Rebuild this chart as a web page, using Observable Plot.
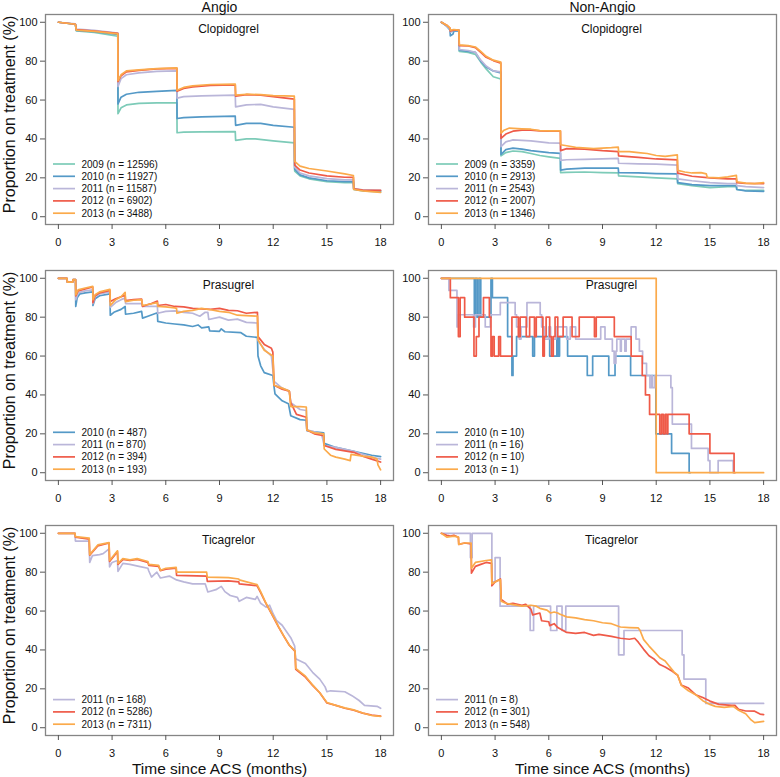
<!DOCTYPE html>
<html><head><meta charset="utf-8">
<script src="https://cdn.jsdelivr.net/npm/d3@7"></script>
<script src="https://cdn.jsdelivr.net/npm/@observablehq/plot@0.6"></script>
<style>
html,body{margin:0;padding:0;background:#fff;}
#chart{position:relative;width:780px;height:777px;overflow:hidden;font-family:"Liberation Sans",Arial,Helvetica,sans-serif;}
#chart svg{position:absolute;}
</style></head><body><div id="chart"></div>
<script>
// ---------- labels / ticks ----------
const columnTitles = ["Angio", "Non-Angio"];
const drugs = ["Clopidogrel", "Prasugrel", "Ticagrelor"];
const xTicks = [0, 3, 6, 9, 12, 15, 18];
const yTicks = [0, 20, 40, 60, 80, 100];
const yLabel = "Proportion on treatment (%)";
const xLabel = "Time since ACS (months)";
const yearColors = {2009: "#7dcbb8", 2010: "#5499c7", 2011: "#bab6d9", 2012: "#ef5a48", 2013: "#fbaa4b"};

// ---------- sample sizes ----------
const nAngioClop = {2009: 12596, 2010: 11927, 2011: 11587, 2012: 6902, 2013: 3488};
const nNonAngioClop = {2009: 3359, 2010: 2913, 2011: 2543, 2012: 2007, 2013: 1346};
const nAngioPras = {2010: 487, 2011: 870, 2012: 394, 2013: 193};
const nNonAngioPras = {2010: 10, 2011: 16, 2012: 10, 2013: 1};
const nAngioTica = {2011: 168, 2012: 5286, 2013: 7311};
const nNonAngioTica = {2011: 8, 2012: 301, 2013: 548};

// ---------- series: [month, % on treatment, ...] ----------
// Angio / Clopidogrel
const ac2009 = [0,100, 0.95,99, 1.0,95.6, 2,94.8, 3.32,92.8, 3.33,53, 3.5,56, 3.8,57.5, 4.5,58.3, 5.5,58.5, 6.62,58.6, 6.63,43.2, 7,43.5, 8,43.6, 9.88,43.8, 9.9,39.3, 10.5,40, 11,40, 12,39, 13.18,38, 13.2,23.5, 13.5,21, 14,19.5, 15,18, 16,17.5, 16.48,17.5, 16.5,14, 17,13.3, 18,12.8];
const ac2010 = [0,100, 0.95,99, 1.0,95.8, 2,95.2, 3.32,93.8, 3.33,58, 3.5,61.5, 3.8,63, 4.5,64, 5.5,64.5, 6.62,65, 6.63,50.5, 7,51, 8,51.3, 9.88,51.7, 9.9,47, 10.5,48, 11.3,48, 12,47, 13.18,46, 13.2,24.5, 13.5,21.5, 14,20, 15,18.5, 16,18, 16.48,18, 16.5,14.2, 17,13.6, 18,13.2];
const ac2011 = [0,100, 0.95,99.2, 1.0,96.5, 2,95.8, 3.32,94.5, 3.33,67, 3.5,71, 3.8,73, 4.5,74, 5.5,74.7, 6.62,75, 6.63,61, 7,61.8, 8,62.2, 9.88,62.5, 9.9,56.5, 10.5,57.5, 11.3,57.8, 12,56.5, 13.18,55.2, 13.2,25.5, 13.5,22.5, 14,21, 15,19.6, 16,19, 16.48,19, 16.5,14.4, 17,13.8, 18,13.5];
const ac2012 = [0,100, 0.95,99, 1.0,96.2, 2,95.5, 3.32,94.3, 3.33,69.5, 3.5,72.5, 3.8,74.5, 4.5,75.3, 5.5,76, 6.62,76.3, 6.63,64.5, 7,66, 7.5,66.8, 8.5,67.5, 9.88,67.8, 9.9,62, 10.5,62.8, 11.3,62.5, 12,61.8, 13.18,60.5, 13.2,26.5, 13.5,24, 14,22.5, 15,21, 16,20.3, 16.48,20.2, 16.5,14.3, 17,13.7, 18,13.5];
const ac2013 = [0,100, 0.95,99, 1.0,96, 2,95.3, 3.32,94, 3.33,70, 3.5,73, 3.8,75, 4.5,75.5, 5.5,76.2, 6.62,76.6, 6.63,65, 7,66.5, 7.5,67.3, 8.5,68, 9.88,68.2, 9.9,62.5, 10.5,63, 11.3,62.8, 12,62.3, 13.18,62, 13.2,28.5, 13.5,26, 14,24.8, 15,23.5, 16,22, 16.48,21.2, 16.5,14, 17,13.3, 18,12.5];
// Non-Angio / Clopidogrel
const nc2009 = [0,100, 0.3,98, 0.48,96.5, 0.5,95, 0.65,95.5, 0.7,96, 0.98,95.8, 1.0,85, 1.5,84.5, 1.9,83.5, 2.2,79.5, 2.5,76, 2.9,72, 3.32,70.8, 3.33,31.3, 3.6,33, 4,33.8, 4.5,33.5, 5,32.5, 5.5,31.5, 6,30.8, 6.65,30, 6.66,22.7, 7,22.8, 8,23, 9,22.7, 9.88,22.5, 9.9,21, 11,20.5, 12,20, 13.18,19.5, 13.2,17, 14,16, 15,15, 16,15.5, 16.48,15.5, 16.5,14, 17,13.5, 18,13.5];
const nc2010 = [0,100, 0.3,98, 0.48,96, 0.5,93, 0.65,94, 0.7,95.5, 0.98,95.5, 1.0,85.6, 1.5,85, 1.9,84.5, 2.2,80, 2.5,77, 2.9,75, 3.32,74, 3.33,32, 3.6,34.5, 4,35.3, 4.5,34.8, 5,34, 5.5,33.5, 6,33, 6.65,32.6, 6.66,24, 7,24.5, 8,25, 9,25, 9.88,25, 9.9,22.7, 11,22.5, 12,22.2, 13.18,22, 13.2,17.5, 14,16.5, 15,16, 16,16, 16.48,16, 16.5,14, 17,13.3, 18,13];
const nc2011 = [0,100, 0.3,98, 0.48,96.5, 0.5,95, 0.7,96, 0.98,95.8, 1.0,86, 1.5,85.5, 1.9,84.5, 2.2,80.5, 2.5,77.5, 2.9,75, 3.32,74.5, 3.33,36, 3.6,38.5, 4,39.5, 4.5,39.3, 5,39, 5.5,38.5, 6,38, 6.65,37.8, 6.66,29, 7,29.3, 8,29.5, 9,29.7, 9.88,30, 9.9,27.5, 11,27.2, 12,27, 13.18,26.5, 13.2,19.5, 14,18.5, 15,17.5, 16,17, 16.48,17, 16.5,16, 17,15.5, 18,15];
const nc2012 = [0,100, 0.3,98.5, 0.48,97, 0.5,95.5, 0.7,96, 0.98,96, 1.0,88, 1.5,87.8, 1.9,87, 2.2,84.5, 2.5,82, 2.9,80.3, 3.32,79, 3.33,40.3, 3.6,42.5, 4,44, 4.5,44.5, 5,44.5, 5.5,44.2, 6,44, 6.65,44, 6.66,34, 7,35, 8,34.8, 9,34, 9.88,33.5, 9.9,31.3, 11,30.5, 12,29.7, 13.18,29.2, 13.2,22.4, 14,20.8, 15,20, 16,19.5, 16.48,19.5, 16.5,17.5, 17,17.2, 18,17];
const nc2013 = [0,100, 0.3,98.5, 0.48,97, 0.5,96, 0.7,96.3, 0.98,96, 1.0,88.4, 1.5,88, 1.9,87.3, 2.2,85, 2.5,82.5, 2.9,80.5, 3.32,79.5, 3.33,43, 3.5,44.5, 3.8,45.6, 4.5,45.2, 5,45, 5.5,44.3, 6,44.2, 6.65,44.2, 6.66,37, 7,36.5, 7.5,35.7, 8.5,35, 9.5,35.5, 9.88,35.8, 9.9,33.5, 10.5,33.5, 11,33, 11.5,32.5, 12,31.5, 12.5,31, 13.18,31.8, 13.2,23.8, 13.6,23, 14,22.5, 14.5,22.7, 14.8,22, 14.85,20.3, 15.5,20, 16,20.5, 16.48,21.3, 16.5,18, 17,17.3, 17.5,17, 18,17.5];
// Angio / Prasugrel
const ap2010 = [0,100, 0.48,100, 0.5,98, 0.8,98, 0.82,99.3, 0.96,99.3, 0.97,85.5, 1.05,90, 1.2,92, 1.5,92.5, 1.92,93, 1.93,86, 2.05,89.5, 2.3,91, 2.88,92, 2.9,81, 3.1,82.5, 3.5,84, 3.73,85.5, 3.75,81.5, 4.2,82, 4.65,83, 4.7,79.5, 5.0,80.5, 5.53,82.3, 5.55,77.8, 6,77, 6.5,76.5, 7,76, 7.5,75.2, 7.8,76, 8.0,74.5, 8.4,75, 8.45,73, 9,72.7, 9.1,74, 9.3,72.5, 10.2,72, 10.5,70.2, 11.12,69.6, 11.15,60, 11.3,55, 11.5,51.5, 11.98,50, 12.05,44, 12.1,40.5, 12.5,37, 12.85,35.5, 12.98,29.3, 13.5,27.3, 13.85,27, 13.88,21.6, 14.3,21, 14.82,20.5, 14.85,15.1, 15.5,13, 16,12, 16.5,11, 17,10, 17.5,9, 18,8.3];
const ap2011 = [0,100, 0.48,100, 0.5,98, 0.8,98, 0.82,99.3, 0.96,99.3, 0.97,89, 1.1,92.5, 1.5,93.5, 1.92,94, 1.93,87, 2.05,90.5, 2.3,92, 2.88,93, 2.9,85, 3.2,87.5, 3.5,89, 3.73,89.8, 3.75,87, 4.2,87, 4.65,87, 4.7,85.5, 5.0,85.5, 5.53,85.5, 5.55,82, 6,83, 6.5,83.2, 7,82.5, 7.5,82, 7.9,80.5, 8.2,82.5, 8.35,82.5, 8.4,78.8, 9,80, 9.5,78.5, 10,79, 10.5,77.3, 11.12,77, 11.15,68, 11.5,63.5, 11.9,60, 12.05,47, 12.5,43.5, 12.9,42, 12.98,36, 13.5,32.5, 13.85,32, 13.88,22, 14.7,20, 14.85,14, 15.5,13, 16.5,11, 17,9.5, 17.5,8, 18,7];
const ap2012 = [0,100, 0.48,100, 0.5,98, 0.8,98, 0.82,99.3, 0.96,99.3, 0.97,91, 1.1,93.5, 1.5,94.5, 1.92,95.5, 1.93,87.5, 2.05,91, 2.3,92.5, 2.88,93.8, 2.9,88, 3.2,89.5, 3.5,90.5, 3.73,91.2, 3.75,88.5, 4.2,89, 4.65,89.3, 4.7,85.5, 5.0,86.5, 5.2,87, 5.53,88.3, 5.55,86, 6,86.5, 6.5,85.5, 7,85.3, 7.5,84.5, 8.5,84, 9,84.5, 9.5,83.5, 10,83.3, 10.5,82, 11.12,82.5, 11.15,70, 11.5,66, 11.9,64, 11.98,62, 12.05,45, 12.5,43, 12.9,42, 12.98,36, 13.3,30, 13.85,28.5, 13.88,22, 14.3,20, 14.82,19, 14.85,14, 15.5,12, 16.5,10.5, 17,8.5, 17.5,7, 18,5.5];
const ap2013 = [0,100, 0.48,100, 0.5,98, 0.8,98, 0.82,99.3, 0.96,99.3, 0.97,91.5, 1.1,94, 1.5,95, 1.92,95.8, 1.93,89, 2.05,91.5, 2.3,93, 2.88,94.3, 2.9,86, 3.2,89, 3.5,90.5, 3.73,92.8, 3.75,88, 4.2,88.7, 4.65,89, 4.7,86, 5.0,86.5, 5.53,87.5, 5.55,85.5, 6,85.3, 6.5,84.8, 6.6,84.5, 6.62,82, 7,83, 7.5,83.5, 8,84.5, 8.5,83.8, 9,83, 9.5,82.5, 10,81, 10.5,80.8, 11.12,80.5, 11.15,68.3, 11.5,63, 11.98,60, 12.05,45, 12.5,43.5, 12.9,42, 12.98,34, 13.5,34, 13.85,33.8, 13.88,22, 14.3,20.5, 14.82,20, 14.85,12.2, 15.2,9, 15.5,8, 16,7, 16.3,6.2, 16.35,9.4, 17,8.5, 17.5,8, 17.8,7, 17.85,4, 18,1.5];
// Non-Angio / Prasugrel (step knots)
const np2010 = [0,100, 1.84,80, 1.9,100, 2.0,80, 2.1,100, 2.2,80, 2.77,100, 2.85,90, 3.7,70, 3.94,50, 4.0,60, 4.2,70, 5.1,60, 5.2,70, 6.05,60, 6.45,70, 6.52,60, 6.6,70, 7.05,60, 8.15,50, 8.45,60, 9.35,50, 9.7,60, 10.57,50, 11.98,20, 12.86,10, 13.84,0, 13.9,0];
const np2011 = [0,100, 0.42,93.75, 0.87,75, 0.95,81.25, 1.8,75, 1.9,81.25, 2.45,75, 2.73,81.25, 3.29,87.5, 4.12,81.25, 4.2,75, 4.35,68.75, 4.45,75, 4.78,87.5, 5.52,81.25, 5.6,75, 5.75,68.75, 6.0,75, 6.1,68.75, 6.4,75, 7.0,68.75, 7.2,75, 7.5,68.75, 8.9,75, 9.14,68.75, 9.55,62.5, 9.65,56.25, 9.75,62.5, 9.8,68.75, 10.0,62.5, 10.05,68.75, 10.25,62.5, 10.32,68.75, 10.6,75, 10.87,68.75, 11.06,62.5, 11.24,56.25, 11.46,50, 11.65,43.75, 11.75,50, 11.8,43.75, 11.93,50, 12.82,43.75, 12.9,25, 13.97,12.5, 14.9,6.25, 15.0,0, 15.46,6.25, 16.3,0, 16.35,0];
const np2012 = [0,100, 0.5,90, 0.95,70, 1.05,90, 1.3,80, 1.82,60, 1.95,70, 2.1,80, 2.35,90, 2.68,80, 2.77,60, 2.85,70, 2.95,60, 3.2,70, 3.3,60, 3.94,80, 4.3,70, 4.4,80, 4.74,70, 4.93,80, 5.2,70, 5.3,80, 5.67,60, 5.75,70, 5.85,80, 6.05,70, 6.15,60, 6.25,70, 6.35,80, 6.5,70, 6.8,80, 7.3,70, 7.7,80, 8.55,70, 8.65,80, 9.66,70, 10.6,60, 11.22,50, 11.4,40, 11.63,30, 12.2,20, 12.3,30, 12.4,20, 12.5,30, 12.6,20, 12.65,30, 13.84,20, 15.0,10, 16.35,0, 16.4,0];
const np2013 = [0,100, 12.0,0, 18,0];
// Angio / Ticagrelor
const at2011 = [0,100, 0.93,100, 0.95,96, 1.72,96, 1.75,85, 1.9,88.5, 2.3,89, 2.5,89.5, 2.83,92, 2.86,82.7, 3.0,85, 3.3,86, 3.33,80.4, 3.6,84.5, 4.0,84, 4.5,83, 5.0,82, 5.05,80.6, 5.2,77.5, 5.5,80, 5.7,77, 6.2,78, 6.6,76, 7,75, 7.5,74, 8.2,74, 8.35,69.8, 8.8,71, 9.1,72.7, 9.3,70, 9.6,68, 10,67, 10.1,65, 10.5,67, 11.0,66, 11.1,67.5, 11.3,64, 11.6,62, 11.8,63, 12,58.5, 12.2,55, 12.5,52.7, 12.7,50, 13.0,46, 13.2,42, 13.25,35.5, 13.8,33, 14.2,28.5, 14.6,25, 14.9,21, 15.0,18.5, 15.2,19, 16.0,18.5, 16.4,16.5, 16.8,14, 17.1,11.5, 17.8,11, 18,10];
const at2012 = [0,100, 0.93,100, 0.95,98, 1.72,97, 1.75,88.7, 2.2,93.5, 2.83,95, 2.86,85.5, 3.3,90.5, 3.33,84, 3.6,86.5, 4.0,86, 4.4,86.5, 5.0,85, 5.05,83.5, 5.6,83, 5.7,80.8, 6.0,81.5, 6.58,82, 6.6,78.4, 8.28,78, 8.32,75.3, 9.5,75.5, 10.08,75, 10.1,74, 11.1,73, 11.3,69.5, 11.6,63.8, 12,57, 12.3,51.8, 12.6,47, 12.9,42.4, 13.22,39.3, 13.26,30, 13.8,26, 14.2,21.8, 14.6,18, 15,12.7, 15.5,11.5, 16,10, 16.5,9, 17,7.5, 17.5,6.5, 18,6];
const at2013 = [0,100, 0.93,100, 0.95,98.3, 1.72,97.5, 1.75,89, 2.2,94, 2.83,95.2, 2.86,86, 3.3,91, 3.33,84.5, 3.6,87, 4.0,86.3, 4.4,87, 5.0,85.5, 5.05,84, 5.6,83.5, 5.7,81, 6.0,82, 6.58,82.5, 6.6,80, 8.28,80, 8.32,77.4, 9.5,77.2, 10.08,76.5, 10.1,76, 11.1,73.6, 11.3,70, 11.6,64, 12,57.3, 12.3,52, 12.6,47, 12.9,42.5, 13.22,39.5, 13.26,30.5, 13.8,26.5, 14.2,22, 14.6,18, 15,13, 15.5,11.5, 16,10.2, 16.5,9.2, 17,7.6, 17.5,6.3, 18,5.8];
// Non-Angio / Ticagrelor
const nt2011 = [0,100, 1.62,87.5, 1.72,100, 2.82,75, 3.0,87.5, 3.28,62.5, 4.96,50, 5.15,62.5, 6.1,50, 6.45,62.5, 6.74,50, 6.95,62.5, 9.9,37.5, 10.2,50, 13.45,37.5, 13.55,25, 14.77,12.5, 18,12.5];
const nt2012 = [0,100, 0.3,99, 0.5,98.5, 0.7,99, 0.95,98, 0.97,94.3, 1.3,95, 1.66,94.5, 1.68,79.5, 1.9,83, 2.2,84, 2.5,85, 2.8,84.5, 2.82,73, 3.0,75, 3.3,76.5, 3.34,66, 3.7,63.5, 4.0,64, 4.5,63, 4.7,63.5, 5.0,61, 5.1,58, 5.5,59, 5.6,55, 6.0,54.5, 6.05,52.5, 6.3,53.5, 6.5,51.5, 6.8,50, 7.0,49, 7.5,48.5, 8.0,49, 8.5,47.5, 8.8,48, 9.5,47, 10,46, 10.5,45.5, 10.8,46, 11,44, 11.3,40.3, 11.6,37, 11.9,35.2, 12.2,32.5, 12.5,31.2, 12.9,29, 13.2,27, 13.4,22, 13.8,20.4, 14.2,17, 14.6,15.5, 15,13.7, 15.5,12, 16.2,11.5, 16.4,11.5, 16.6,9.5, 17,8.6, 17.5,8.5, 17.8,7, 18,6.7];
const nt2013 = [0,100, 0.3,98, 0.7,98.5, 0.95,98, 0.97,94.3, 1.3,95, 1.66,95, 1.68,82, 1.9,85, 2.5,86, 2.8,86.3, 2.82,74, 3.1,75.5, 3.3,76, 3.34,65, 3.6,64, 4.0,63.3, 4.5,62.5, 5.0,63, 5.3,62.5, 5.5,61.4, 5.9,60.5, 6.1,59, 6.3,59.5, 6.5,59, 6.6,58.5, 7,57, 7.5,56.5, 8,55.6, 8.5,55, 9,54, 9.5,53.5, 10,51.8, 10.5,51.5, 11,51.3, 11.1,50, 11.3,45.3, 11.6,42, 11.9,39, 12.2,36, 12.5,34.3, 12.7,32, 13,28.6, 13.2,27, 13.4,21.8, 13.8,19, 14.2,17, 14.6,13.9, 15,12, 15.3,11, 15.8,10.5, 16.3,11, 16.6,9, 17,7.2, 17.3,4, 17.5,2.6, 18,3.3];

// ---------- panel assembly ----------
const panels = [
  {row: 0, col: 0, n: nAngioClop, curve: "linear", series: {2009: ac2009, 2010: ac2010, 2011: ac2011, 2012: ac2012, 2013: ac2013}},
  {row: 0, col: 1, n: nNonAngioClop, curve: "linear", series: {2009: nc2009, 2010: nc2010, 2011: nc2011, 2012: nc2012, 2013: nc2013}},
  {row: 1, col: 0, n: nAngioPras, curve: "linear", series: {2010: ap2010, 2011: ap2011, 2012: ap2012, 2013: ap2013}},
  {row: 1, col: 1, n: nNonAngioPras, curve: "step-after", series: {2010: np2010, 2011: np2011, 2012: np2012, 2013: np2013}},
  {row: 2, col: 0, n: nAngioTica, curve: "linear", series: {2011: at2011, 2012: at2012, 2013: at2013}},
  {row: 2, col: 1, n: nNonAngioTica, curve: "linear", stepYears: [2011], series: {2011: nt2011, 2012: nt2012, 2013: nt2013}}
];

const FONT = '"Liberation Sans", Arial, Helvetica, sans-serif';
const colLeft = [0, 390];
const colMarginLeft = [45, 38];
const rowTop = [0, 256, 511];
const rowMarginBottom = [32, 32, 42];
const rowTickPad = [8.5, 8.5, 9];
const innerW = 348, innerH = 210, mTop = 14, mRight = 2;

function toPoints(arr, year) {
  const out = [];
  for (let i = 0; i < arr.length; i += 2) out.push({t: arr[i], v: arr[i + 1], year});
  return out;
}

function legendMark(entries) {
  return (index, scales, values, dims) => {
    const g = d3.create("svg:g").attr("font-size", 10).attr("font-family", FONT).attr("text-anchor", "start");
    const x0 = dims.marginLeft, yb = dims.height - dims.marginBottom;
    entries.forEach((e, i) => {
      const y = yb - 10.8 - (entries.length - 1 - i) * 12.3;
      g.append("line").attr("x1", x0 + 8).attr("x2", x0 + 30).attr("y1", y).attr("y2", y)
        .attr("stroke", e.color).attr("stroke-width", 1.7);
      g.append("text").attr("x", x0 + 36.5).attr("y", y).attr("dy", "0.35em")
        .attr("text-anchor", "start").attr("fill", "#111").text(e.label);
    });
    return g.node();
  };
}

const chart = document.getElementById("chart");
for (const p of panels) {
  const years = Object.keys(p.series).map(Number).sort();
  const mL = colMarginLeft[p.col], mB = rowMarginBottom[p.row];
  const marks = [
    Plot.frame({stroke: "#858585", strokeWidth: 1.3}),
    Plot.axisX(xTicks, {tickSize: 5, tickPadding: rowTickPad[p.row], fontSize: 11, label: null, stroke: "#555", color: "#111"}),
    Plot.axisY(yTicks, {tickSize: 5, tickPadding: 3, fontSize: 11, label: null, stroke: "#555", color: "#111"})
  ];
  for (const yr of years) {
    const curve = (p.stepYears && p.stepYears.includes(yr)) ? "step-after" : p.curve;
    marks.push(Plot.line(toPoints(p.series[yr], yr), {x: "t", y: "v", stroke: yearColors[yr], strokeWidth: 1.7, curve}));
  }
  marks.push(Plot.text([drugs[p.row]], {text: d => d, frameAnchor: "top", dx: 9, dy: 15, lineAnchor: "middle", textAnchor: "middle", fontSize: 12, fill: "#111"}));
  if (p.row === 0) marks.push(Plot.text([columnTitles[p.col]], {text: d => d, frameAnchor: "top", dy: -7, lineAnchor: "middle", textAnchor: "middle", fontSize: 14, fill: "#111"}));
  if (p.col === 0) marks.push(Plot.text([yLabel], {text: d => d, frameAnchor: "left", dx: -35.5, dy: -5, rotate: -90, lineAnchor: "middle", textAnchor: "middle", fontSize: 16, fill: "#111"}));
  if (p.row === 2) marks.push(Plot.text([xLabel], {text: d => d, frameAnchor: "bottom", dy: 34, lineAnchor: "middle", textAnchor: "middle", fontSize: 15.5, fill: "#111"}));
  marks.push(legendMark(years.map(yr => ({color: yearColors[yr], label: `${yr} (n = ${p.n[yr]})`}))));

  const svg = Plot.plot({
    width: mL + innerW + mRight,
    height: mTop + innerH + mB,
    marginLeft: mL, marginRight: mRight, marginTop: mTop, marginBottom: mB,
    style: {fontFamily: FONT, fontSize: "11px", background: "transparent", overflow: "visible"},
    x: {domain: [-0.72, 18.72]},
    y: {domain: [-4, 104]},
    marks
  });
  svg.style.left = colLeft[p.col] + "px";
  svg.style.top = rowTop[p.row] + "px";
  chart.appendChild(svg);
}
</script></body></html>
